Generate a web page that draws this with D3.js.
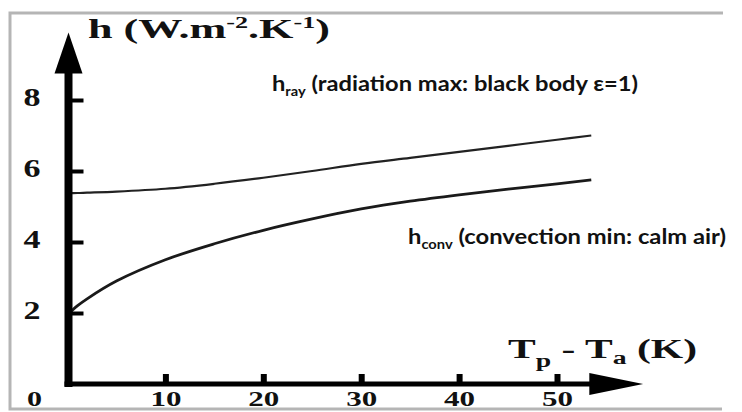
<!DOCTYPE html>
<html>
<head>
<meta charset="utf-8">
<script src="https://cdn.jsdelivr.net/npm/d3@7"></script>
<style>
  body { margin: 0; background: #fff; }
  svg { display: block; }
  .serif { font-family: "Liberation Serif", "Times New Roman", serif; font-weight: bold; fill: #111; }
  .note { font-family: Lato, "Open Sans", sans-serif; font-weight: bold; fill: #111; }
</style>
</head>
<body>
<svg id="chart" width="742" height="412"></svg>
<script>
// temperature difference Tp - Ta (K)
const dT = [0, 1, 2, 5, 10, 15, 20, 25, 30, 35, 40, 45, 50, 53.5];
// radiation coefficient, black body
const hRay = [5.38, 5.38, 5.39, 5.42, 5.5, 5.64, 5.81, 6.0, 6.2, 6.37, 6.54, 6.71, 6.88, 7.0];
// natural convection, calm air
const hConv = [1.95, 2.2, 2.4, 2.9, 3.5, 3.95, 4.33, 4.65, 4.93, 5.15, 5.33, 5.49, 5.64, 5.75];
const xTicks = [10, 20, 30, 40, 50];
const yTicks = [2, 4, 6, 8];

const svg = d3.select('#chart');

const x = d3.scaleLinear().domain([0, 50]).range([67.5, 557]);
const y = d3.scaleLinear().domain([0, 8]).range([384, 100]);

// scanned frame
svg.append('rect').attr('x', 0).attr('y', 0).attr('width', 742).attr('height', 412).attr('fill', '#fff');
svg.append('path')
  .attr('d', 'M723,13 H10 V409 H722')
  .attr('fill', 'none')
  .attr('stroke', '#b5b5b5')
  .attr('stroke-width', 3);

// curves
const line = d3.line()
  .x((d) => x(d[0]))
  .y((d) => y(d[1]))
  .curve(d3.curveCatmullRom);

svg.append('path')
  .datum(dT.map((t, i) => [t, hRay[i]]))
  .attr('d', line)
  .attr('fill', 'none')
  .attr('stroke', '#222')
  .attr('stroke-width', 2.2);

svg.append('path')
  .datum(dT.map((t, i) => [t, hConv[i]]))
  .attr('d', line)
  .attr('fill', 'none')
  .attr('stroke', '#1a1a1a')
  .attr('stroke-width', 2.8);

// x axis: ticks pointing up, labels below
const gx = svg.append('g')
  .attr('transform', `translate(0,${y(0)})`)
  .call(d3.axisBottom(x).tickValues(xTicks).tickSizeInner(-10).tickSizeOuter(0).tickPadding(8));
gx.select('.domain').remove();
gx.selectAll('.tick line').attr('stroke', '#000').attr('stroke-width', 6);
gx.selectAll('.tick text')
  .attr('class', 'serif')
  .attr('font-size', 20)
  .attr('textLength', 31)
  .attr('lengthAdjust', 'spacingAndGlyphs');

// y axis: ticks pointing right, labels to the left
const gy = svg.append('g')
  .attr('transform', `translate(${x(0) + 1},0)`)
  .call(d3.axisLeft(y).tickValues(yTicks).tickSizeInner(-15).tickSizeOuter(0).tickPadding(28));
gy.select('.domain').remove();
gy.selectAll('.tick line').attr('stroke', '#000').attr('stroke-width', 4);
gy.selectAll('.tick text')
  .attr('class', 'serif')
  .attr('font-size', 25)
  .attr('dy', '0.2em')
  .attr('textLength', 17)
  .attr('lengthAdjust', 'spacingAndGlyphs');

// origin label
svg.append('text')
  .attr('class', 'serif')
  .attr('x', x(0) - 33)
  .attr('y', y(0) + 8)
  .attr('dy', '0.71em')
  .attr('text-anchor', 'middle')
  .attr('font-size', 20)
  .attr('textLength', 15)
  .attr('lengthAdjust', 'spacingAndGlyphs')
  .text('0');

// thick axis lines with arrow heads
const x0 = x(0) + 1;
svg.append('line')
  .attr('x1', x0).attr('x2', x0)
  .attr('y1', y(0) + 3).attr('y2', y(8.8))
  .attr('stroke', '#000').attr('stroke-width', 8);
svg.append('path')
  .attr('d', `M${x0 - 14},${y(8.75)} L${x0},${y(9.9)} L${x0 + 14},${y(8.75)} Z`)
  .attr('fill', '#000');

svg.append('line')
  .attr('x1', x0 - 4).attr('x2', x(53.6))
  .attr('y1', y(0)).attr('y2', y(0))
  .attr('stroke', '#000').attr('stroke-width', 5);
svg.append('path')
  .attr('d', `M${x(53.3)},${y(0) - 11} L${x(58.8)},${y(0)} L${x(53.3)},${y(0) + 11} Z`)
  .attr('fill', '#000');

// axis titles
const ty = svg.append('text')
  .attr('class', 'serif')
  .attr('x', 88).attr('y', 38)
  .attr('font-size', 27)
  .attr('textLength', 242)
  .attr('lengthAdjust', 'spacingAndGlyphs');
ty.append('tspan').text('h (W.m');
ty.append('tspan').attr('font-size', 16).attr('dy', -10).text('-2');
ty.append('tspan').attr('dy', 10).text('.K');
ty.append('tspan').attr('font-size', 16).attr('dy', -10).text('-1');
ty.append('tspan').attr('dy', 10).text(')');

const tx = svg.append('text')
  .attr('class', 'serif')
  .attr('x', 508).attr('y', 358)
  .attr('font-size', 27)
  .attr('textLength', 189)
  .attr('lengthAdjust', 'spacingAndGlyphs');
tx.append('tspan').text('T');
tx.append('tspan').attr('font-size', 18).attr('dy', 9).text('p');
tx.append('tspan').attr('dy', -9).text(' - T');
tx.append('tspan').attr('font-size', 18).attr('dy', 6).text('a');
tx.append('tspan').attr('dy', -6).text(' (K)');

// annotations
const n1 = svg.append('text')
  .attr('class', 'note')
  .attr('x', 272).attr('y', 91)
  .attr('font-size', 21)
  .attr('textLength', 366)
  .attr('lengthAdjust', 'spacingAndGlyphs');
n1.append('tspan').text('h');
n1.append('tspan').attr('font-size', 13).attr('dy', 5).text('ray');
n1.append('tspan').attr('dy', -5).text(' (radiation max: black body \u03b5=1)');

const n2 = svg.append('text')
  .attr('class', 'note')
  .attr('x', 408).attr('y', 244)
  .attr('font-size', 21)
  .attr('textLength', 318)
  .attr('lengthAdjust', 'spacingAndGlyphs');
n2.append('tspan').text('h');
n2.append('tspan').attr('font-size', 13).attr('dy', 5).text('conv');
n2.append('tspan').attr('dy', -5).text(' (convection min: calm air)');
</script>
</body>
</html>
